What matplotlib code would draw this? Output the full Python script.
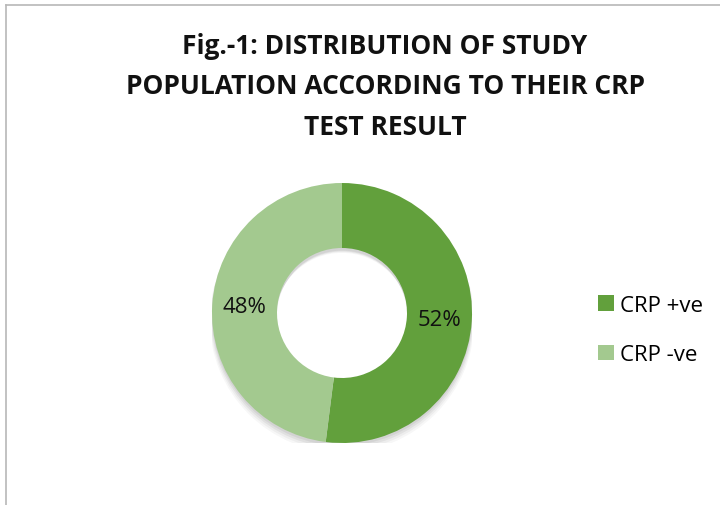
import matplotlib.pyplot as plt
from matplotlib.lines import Line2D
from matplotlib.patches import Wedge

# data
labels = ["CRP +ve", "CRP -ve"]
shares = [52, 48]
colors = ["#62a03c", "#a3c98f"]
title = "Fig.-1: DISTRIBUTION OF STUDY\nPOPULATION ACCORDING TO THEIR CRP\nTEST RESULT"

plt.rcParams["font.family"] = ["Open Sans", "DejaVu Sans"]

fig = plt.figure(figsize=(7.2, 5.06), dpi=100)

# chart area border (left and top edge only visible)
fig.add_artist(Line2D([6 / 720, 6 / 720], [0, 1 - 6 / 506], color="#b8b8b8", lw=1.2))
fig.add_artist(Line2D([6 / 720, 1], [1 - 6 / 506, 1 - 6 / 506], color="#b8b8b8", lw=1.2))

fig.text(385 / 720, 1 - 87 / 506, title, ha="center", va="center",
         fontsize=19, fontweight="bold", linespacing=1.62, color="#111111")

# donut
ax = fig.add_axes([(342 - 130) / 720, (506 - 314 - 130) / 506, 260 / 720, 260 / 506])
# soft shadow under the ring
for i, a in enumerate([0.06, 0.05, 0.04, 0.03]):
    ax.add_patch(Wedge((0, -0.02 - 0.012 * i), 1.0 + 0.006 * i, 0, 360, width=0.5,
                       color="black", alpha=a, lw=0))

wedges, texts, autotexts = ax.pie(shares, colors=colors, startangle=90, counterclock=False,
                                  autopct="%1.0f%%", pctdistance=0.75,
                                  wedgeprops=dict(width=0.5, edgecolor="none"),
                                  textprops=dict(fontsize=16, color="#111111"))
ax.set_xlim(-1.0, 1.0)
ax.set_ylim(-1.0, 1.0)
ax.set_aspect("equal")
ax.axis("off")

fig.legend(wedges, labels, loc="center left", bbox_to_anchor=(578 / 720, 1 - 331 / 506),
           frameon=False, fontsize=16, handlelength=0.7, handleheight=0.7,
           handletextpad=0.3, labelspacing=1.3)

fig.savefig("out.png", dpi=100)
plt.close("all")
